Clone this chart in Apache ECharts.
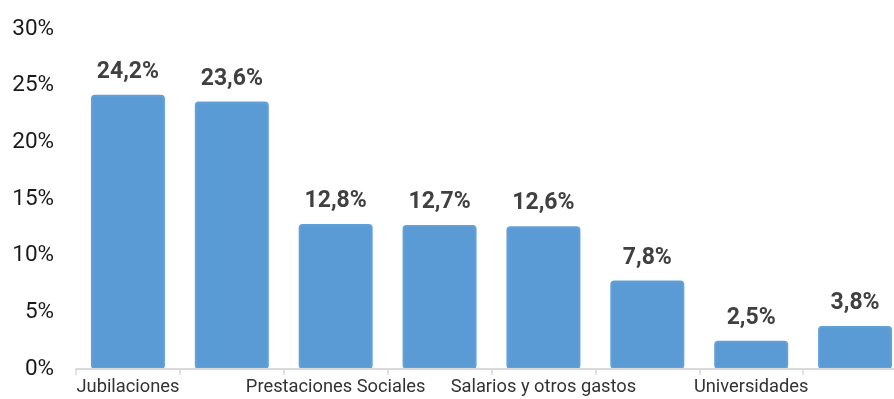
<!DOCTYPE html>
<html>
<head>
<meta charset="utf-8">
<script src="https://cdn.jsdelivr.net/npm/echarts@6/dist/echarts.min.js"></script>
<style>
html,body{margin:0;padding:0;background:#fff;}
#c{width:894px;height:399px;}
</style>
</head>
<body>
<div id="c"></div>
<script>
const categories = ["Jubilaciones", "Intereses de la deuda", "Prestaciones Sociales", "Transferencias a provincias", "Salarios y otros gastos", "Subsidios económicos", "Universidades", "Otros gastos"];
const values = [24.2, 23.6, 12.8, 12.7, 12.6, 7.8, 2.5, 3.8];
const yTicks = [0, 5, 10, 15, 20, 25, 30];

const chart = echarts.init(document.getElementById('c'), null, {renderer: 'canvas'});
chart.setOption({
  animation: false,
  textStyle: {fontFamily: 'Roboto'},
  grid: {left: 76, width: 831, top: 29, height: 340, containLabel: false, outerBoundsMode: 'none'},
  xAxis: {
    type: 'category',
    data: categories,
    z: 3,
    axisLine: {lineStyle: {color: '#d9d9d9', width: 2}},
    axisTick: {show: true, interval: 0, length: 6, lineStyle: {color: '#d9d9d9', width: 1.5}},
    axisLabel: {interval: 1, color: '#333333', fontSize: 18.3, margin: 9, fontFamily: 'Roboto'}
  },
  yAxis: {
    type: 'value',
    min: yTicks[0],
    max: yTicks[yTicks.length - 1],
    interval: 5,
    splitLine: {show: false},
    axisLine: {show: false},
    axisTick: {show: false},
    axisLabel: {color: '#1a1a1a', fontSize: 22.5, margin: 22, formatter: v => v + '%', fontFamily: 'Roboto'}
  },
  series: [{
    type: 'bar',
    data: values,
    barWidth: 74,
    itemStyle: {color: '#5b9bd5', borderColor: '#63a0d8', borderWidth: 2, borderRadius: 3},
    label: {
      show: true,
      position: 'top',
      distance: 11,
      fontSize: 23,
      fontWeight: 'bold',
      color: '#404040',
      fontFamily: 'Roboto',
      formatter: p => p.value.toFixed(1).replace('.', ',') + '%'
    }
  }]
});
</script>
</body>
</html>
